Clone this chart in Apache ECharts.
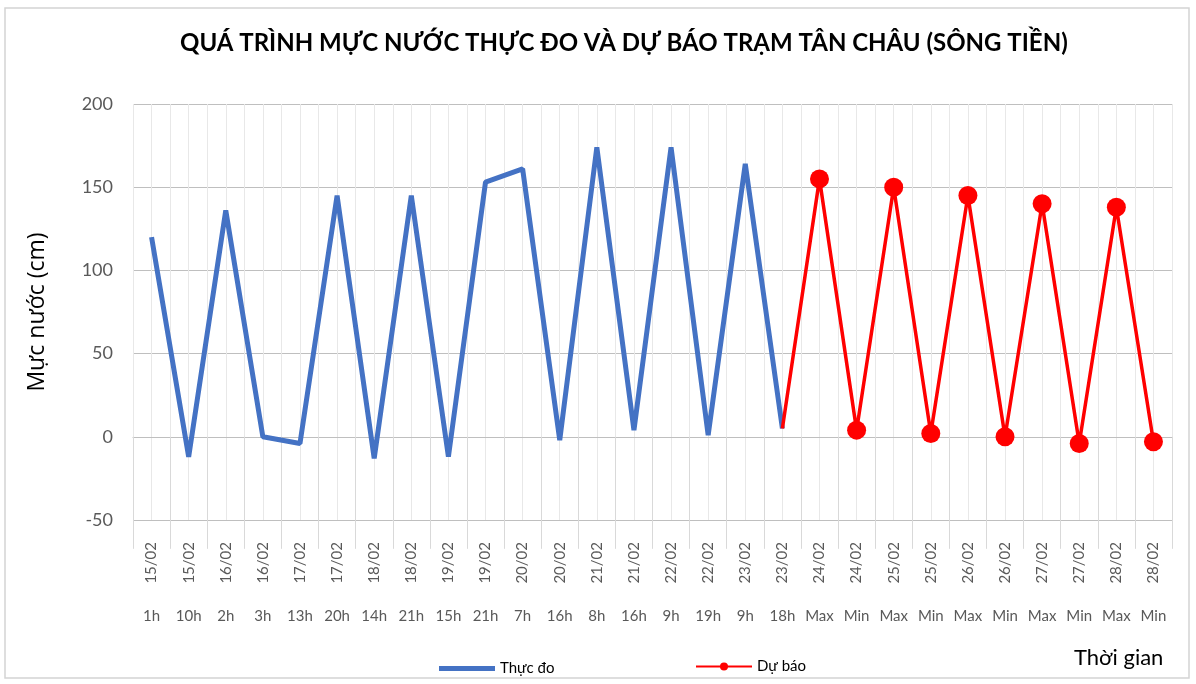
<!DOCTYPE html>
<html>
<head>
<meta charset="utf-8">
<script src="https://cdn.jsdelivr.net/npm/echarts@6/dist/echarts.min.js"></script>
<style>
  html, body { margin: 0; padding: 0; background: #fff; }
  #main { width: 1196px; height: 684px; }
</style>
</head>
<body>
<div id="main"></div>
<script>
var dates = ['15/02','15/02','16/02','16/02','17/02','17/02','18/02','18/02','19/02','19/02',
             '20/02','20/02','21/02','21/02','22/02','22/02','23/02','23/02',
             '24/02','24/02','25/02','25/02','26/02','26/02','27/02','27/02','28/02','28/02'];
var hours = ['1h','10h','2h','3h','13h','20h','14h','21h','15h','21h',
             '7h','16h','8h','16h','9h','19h','9h','18h',
             'Max','Min','Max','Min','Max','Min','Max','Min','Max','Min'];
// measured (Thực đo), 15/02 1h .. 23/02 18h
var observed = [120, -12, 136, 0, -4, 145, -13, 145, -12, 153, 161, -2, 174, 4, 174, 1, 164, 5];
// forecast (Dự báo), starts at the last measured point 23/02 18h
var forecastStart = 17;
var forecast = [5, 155, 4, 150, 2, 145, 0, 140, -4, 138, -3];

var font = 'Lato';

var obsData = dates.map(function (d, i) {
    return i < observed.length ? observed[i] : null;
});
var fcData = dates.map(function (d, i) {
    var k = i - forecastStart;
    if (k < 0) return null;
    if (k === 0) return { value: forecast[k], symbol: 'none' };
    return forecast[k];
});

var chart = echarts.init(document.getElementById('main'));
chart.setOption({
    animation: false,
    backgroundColor: '#fff',
    title: {
        text: 'QUÁ TRÌNH MỰC NƯỚC THỰC ĐO VÀ DỰ BÁO TRẠM TÂN CHÂU (SÔNG TIỀN)',
        left: 180,
        top: 31,
        padding: 0,
        textStyle: { fontFamily: font, fontSize: 24, fontWeight: 'bold', color: '#000' }
    },
    legend: [{
        data: [{ name: 'Thực đo', icon: 'rect' }],
        left: 434, top: 656,
        itemWidth: 56, itemHeight: 5, itemGap: 3,
        textStyle: { fontFamily: font, fontSize: 15, color: '#000' }
    }, {
        data: ['Dự báo'],
        left: 690, top: 654,
        itemWidth: 56, itemHeight: 10, itemGap: 3,
        textStyle: { fontFamily: font, fontSize: 15, color: '#000' }
    }],
    graphic: [{
        type: 'rect',
        shape: { x: 5, y: 8, width: 1184, height: 670 },
        style: { fill: 'none', stroke: '#d4d4d4', lineWidth: 1.5 },
        z: -10
    }, {
        type: 'text',
        left: 1074, top: 647,
        style: { text: 'Thời gian', fontFamily: font, fontSize: 22, fill: '#000' }
    }],
    grid: { left: 133, right: 24, top: 104, bottom: 164 },
    xAxis: [{
        type: 'category',
        data: dates,
        boundaryGap: true,
        axisLine: { lineStyle: { color: '#bfbfbf' } },
        axisTick: { show: true, interval: 0, length: 112, lineStyle: { color: '#d9d9d9' } },
        axisLabel: {
            interval: 0, rotate: 90, margin: 22,
            fontFamily: font, fontSize: 15, color: '#595959'
        },
        splitLine: { show: false }
    }, {
        type: 'category',
        data: hours,
        position: 'bottom',
        axisLine: { show: false },
        axisTick: { show: false },
        axisLabel: {
            interval: 0, margin: 89,
            fontFamily: font, fontSize: 15, color: '#595959'
        }
    }, {
        // light vertical grid at every half category
        type: 'value',
        min: 0, max: dates.length * 2, interval: 1,
        position: 'bottom',
        axisLine: { show: false },
        axisTick: { show: false },
        axisLabel: { show: false },
        splitLine: { show: true, lineStyle: { color: '#e8e8e8', width: 1 } }
    }],
    yAxis: {
        type: 'value',
        min: -50, max: 200, interval: 50,
        name: 'Mực nước (cm)',
        nameLocation: 'middle',
        nameGap: 84,
        nameTextStyle: { fontFamily: 'Open Sans', fontSize: 23, color: '#000' },
        axisLine: { show: false },
        axisTick: { show: false },
        axisLabel: { margin: 20, fontFamily: font, fontSize: 18, color: '#595959' },
        splitLine: { lineStyle: { color: '#bfbfbf' } }
    },
    series: [{
        name: 'Thực đo',
        type: 'line',
        data: obsData,
        symbol: 'none',
        lineStyle: { color: '#4472C4', width: 5 },
        itemStyle: { color: '#4472C4' },
        z: 3
    }, {
        name: 'Dự báo',
        type: 'line',
        data: fcData,
        symbol: 'circle',
        symbolSize: 19,
        showSymbol: true,
        lineStyle: { color: '#FF0000', width: 3.5 },
        itemStyle: { color: '#FF0000' },
        z: 4
    }]
});
</script>
</body>
</html>
